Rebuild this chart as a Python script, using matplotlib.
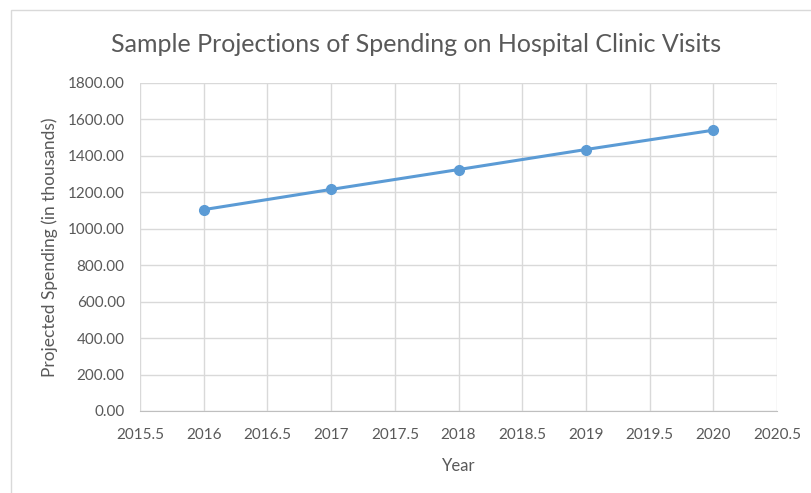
import matplotlib.pyplot as plt
from matplotlib.patches import Rectangle

years = [2016, 2017, 2018, 2019, 2020]
spending = [1105, 1216, 1325, 1435, 1541]
x_ticks = [2015.5, 2016, 2016.5, 2017, 2017.5, 2018, 2018.5, 2019, 2019.5, 2020, 2020.5]
y_ticks = [0, 200, 400, 600, 800, 1000, 1200, 1400, 1600, 1800]

plt.rcParams['font.family'] = ['Lato', 'DejaVu Sans']

fig = plt.figure(figsize=(8.11, 4.93), dpi=100)
fig.set_facecolor('white')

# chart frame, runs off the right and bottom edges
fig.patches.append(Rectangle((11 / 811, -0.1), 1.0, 1 - 10 / 493 + 0.1,
                             transform=fig.transFigure, fill=False,
                             edgecolor='#d9d9d9', linewidth=1.0))

ax = fig.add_axes([140 / 811, (493 - 411) / 493, (777 - 140) / 811, (411 - 83) / 493])

ax.plot(years, spending, color='#5b9bd5', linewidth=2.2, marker='o',
        markersize=7, markerfacecolor='#5b9bd5', markeredgecolor='#5b9bd5', zorder=3)

ax.set_xlim(2015.5, 2020.5)
ax.set_ylim(0, 1800)
ax.set_xticks(x_ticks)
ax.set_xticklabels([f'{t:g}' for t in x_ticks])
ax.set_yticks(y_ticks)
ax.set_yticklabels([f'{t:.2f}' for t in y_ticks])

ax.grid(True, color='#d9d9d9', linewidth=1.0)
ax.set_axisbelow(True)
for side in ['top', 'right', 'left']:
    ax.spines[side].set_visible(False)
ax.spines['bottom'].set_color('#bfbfbf')
ax.tick_params(length=0, colors='#595959', labelsize=11)
ax.tick_params(axis='x', pad=12)
ax.tick_params(axis='y', pad=11)

ax.set_xlabel('Year', color='#595959', fontsize=12, labelpad=12)
ax.set_ylabel('Projected Spending (in thousands)', color='#595959', fontsize=12.5, labelpad=7)

fig.text(416 / 811, 1 - 44 / 493, 'Sample Projections of Spending on Hospital Clinic Visits',
         ha='center', va='center', fontsize=18, color='#595959')

fig.savefig('out.png', dpi=100)
